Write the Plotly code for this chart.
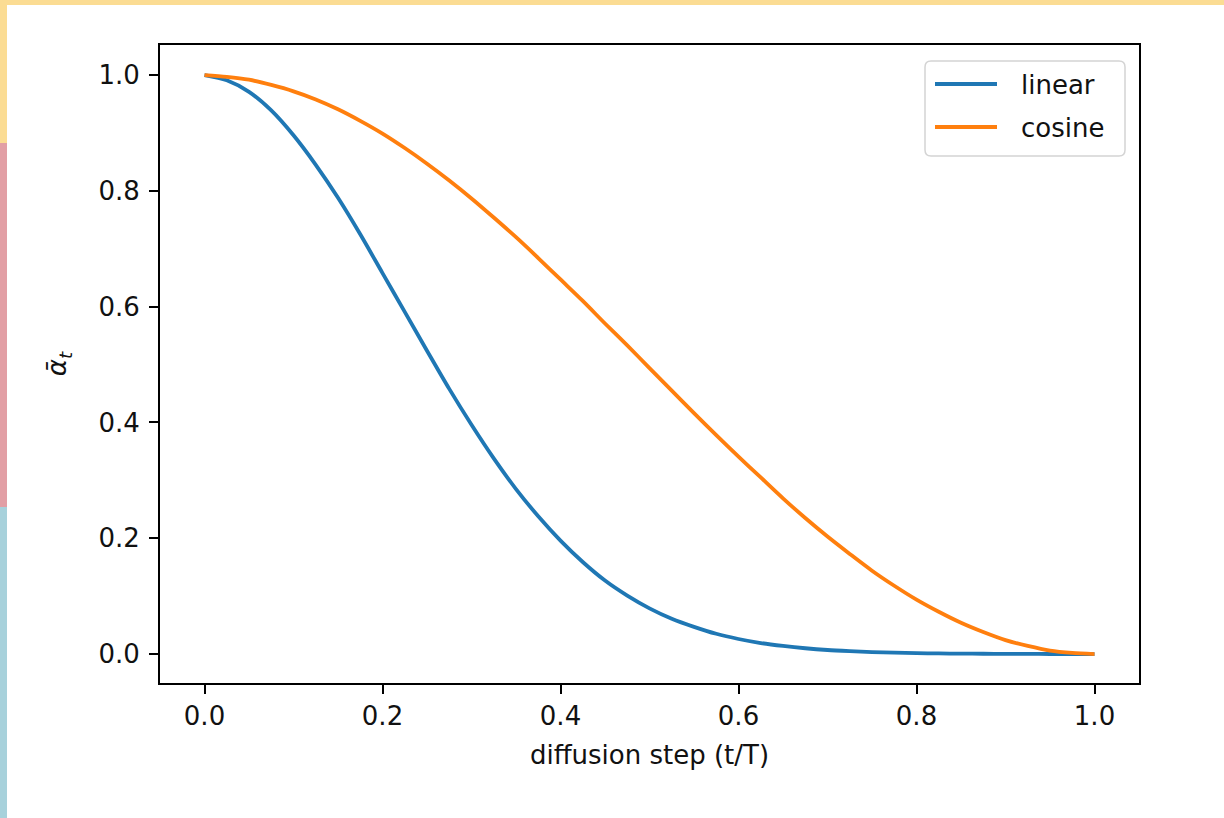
import plotly.graph_objects as go

# diffusion step t/T
t_values = [0.000, 0.025, 0.050, 0.075, 0.100, 0.125, 0.150, 0.175, 0.200, 0.225,
            0.250, 0.275, 0.300, 0.325, 0.350, 0.375, 0.400, 0.425, 0.450, 0.475,
            0.500, 0.525, 0.550, 0.575, 0.600, 0.625, 0.650, 0.675, 0.700, 0.725,
            0.750, 0.775, 0.800, 0.825, 0.850, 0.875, 0.900, 0.925, 0.950, 0.975, 1.000]
# alpha-bar values
linear_values = [1.000, 0.991, 0.971, 0.939, 0.896, 0.845, 0.788, 0.725, 0.658, 0.591,
                 0.524, 0.458, 0.396, 0.338, 0.285, 0.238, 0.196, 0.159, 0.127, 0.101,
                 0.079, 0.061, 0.047, 0.035, 0.026, 0.019, 0.014, 0.010, 0.007, 0.005,
                 0.0034, 0.0023, 0.0016, 0.0011, 0.0007, 0.0005, 0.0003, 0.0002, 0.0001, 0.0001, 0.00004]
cosine_values = [1.000, 0.997, 0.992, 0.983, 0.972, 0.958, 0.941, 0.921, 0.899, 0.874,
                 0.847, 0.818, 0.787, 0.754, 0.720, 0.684, 0.647, 0.610, 0.571, 0.533,
                 0.494, 0.455, 0.416, 0.378, 0.341, 0.305, 0.269, 0.235, 0.203, 0.173,
                 0.144, 0.118, 0.094, 0.073, 0.054, 0.038, 0.024, 0.014, 0.006, 0.002, 0.000]
series_names = ["linear", "cosine"]
series_colors = ["#1f77b4", "#ff7f0e"]
tick_vals = [0.0, 0.2, 0.4, 0.6, 0.8, 1.0]
tick_text = ["0.0", "0.2", "0.4", "0.6", "0.8", "1.0"]

FONT = "DejaVu Sans"
W, H = 1224, 818
L, R, T, B = 160, 85, 45, 135
PW, PH = W - L - R, H - T - B

def px_x(px):
    return (px - L) / PW

def px_y(py):
    return (H - B - py) / PH

fig = go.Figure()
for name, vals, col in zip(series_names, [linear_values, cosine_values], series_colors):
    fig.add_trace(go.Scatter(x=t_values, y=vals, mode="lines", name=name, showlegend=False,
                             line=dict(color=col, width=3.8, shape="spline", smoothing=0.8)))

axis_common = dict(
    showline=True, linecolor="#000000", linewidth=2, mirror=True,
    ticks="outside", ticklen=9, tickwidth=2, tickcolor="#000000",
    showgrid=False, zeroline=False,
    tickfont=dict(family=FONT, size=26, color="#111111"),
    tickvals=tick_vals, ticktext=tick_text,
)

fig.update_layout(
    width=W, height=H,
    margin=dict(l=L, r=R, t=T, b=B, pad=0),
    paper_bgcolor="white", plot_bgcolor="white",
    font=dict(family=FONT, size=26, color="#111111"),
    xaxis=dict(range=[-0.05, 1.05],
               title=dict(text="diffusion step (t/T)", font=dict(family=FONT, size=26, color="#111111"), standoff=16),
               **axis_common),
    yaxis=dict(range=[-0.05, 1.052], ticklabelstandoff=4,
               title=dict(text="<i>ᾱ<sub>t</sub></i>", font=dict(family=FONT, size=26, color="#111111"), standoff=24),
               **axis_common),
    showlegend=False,
)

# legend box (rounded) drawn in paper coordinates
bx0, by0, bx1, by1, rad = 925, 61, 1125, 156, 6
x0, x1 = px_x(bx0), px_x(bx1)
y0, y1 = px_y(by1), px_y(by0)
rx, ry = rad / PW, rad / PH
path = (f"M {x0+rx},{y1} L {x1-rx},{y1} Q {x1},{y1} {x1},{y1-ry} "
        f"L {x1},{y0+ry} Q {x1},{y0} {x1-rx},{y0} L {x0+rx},{y0} "
        f"Q {x0},{y0} {x0},{y0+ry} L {x0},{y1-ry} Q {x0},{y1} {x0+rx},{y1} Z")
fig.add_shape(type="path", xref="paper", yref="paper", path=path,
              fillcolor="rgba(255,255,255,0.8)", line=dict(color="#d4d4d4", width=1.5))
for i, (name, col) in enumerate(zip(series_names, series_colors)):
    ly = 84 + i * 43
    fig.add_shape(type="line", xref="paper", yref="paper",
                  x0=px_x(935), x1=px_x(997), y0=px_y(ly), y1=px_y(ly),
                  line=dict(color=col, width=3.8))
    fig.add_annotation(xref="paper", yref="paper", x=px_x(1019), y=px_y(ly + 1),
                       xanchor="left", yanchor="middle", text=name, showarrow=False,
                       font=dict(family=FONT, size=26, color="#111111"))

# screenshot frame: coloured bands along top and left edge
bands = [
    (0, 0, W, 5, "#FBDC93"),
    (0, 0, 7, 143, "#FBDC93"),
    (0, 143, 7, 507, "#E29FA5"),
    (0, 507, 7, H, "#A7D1DB"),
]
for bx0_, by0_, bx1_, by1_, c in bands:
    fig.add_shape(type="rect", xref="paper", yref="paper",
                  x0=px_x(bx0_), x1=px_x(bx1_), y0=px_y(by1_), y1=px_y(by0_),
                  fillcolor=c, line=dict(width=0), layer="above")

fig.write_html("out.html", config={"displayModeBar": False},
               post_script="document.body.style.margin='0';document.body.style.padding='0';")
